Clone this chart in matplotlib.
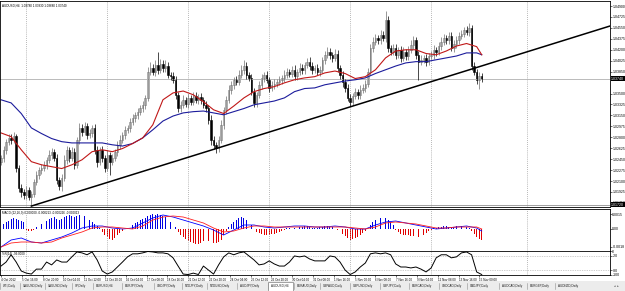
import numpy as np
import matplotlib.pyplot as plt
import matplotlib.transforms as mtransforms

plt.rcParams['font.family'] = ['Liberation Sans', 'DejaVu Sans']

# ---- price data (pips above 1.0000), H4 bars ----
first_open = 240
close_pips = [247, 260, 273, 279, 276, 282, 231, 199, 193, 188,
              196, 185, 190, 209, 220, 228, 231, 236, 244, 252,
              257, 247, 212, 202, 215, 244, 260, 247, 257, 236,
              276, 295, 289, 298, 284, 287, 295, 260, 241, 260,
              247, 231, 252, 241, 247, 257, 268, 276, 284, 292,
              295, 305, 311, 316, 321, 327, 332, 343, 385, 391,
              385, 396, 388, 398, 391, 394, 380, 378, 372, 348,
              327, 332, 340, 334, 343, 337, 346, 340, 345, 340,
              332, 327, 308, 276, 268, 263, 276, 300, 324, 340,
              356, 364, 372, 369, 380, 388, 394, 380, 375, 353,
              335, 348, 364, 375, 380, 372, 359, 364, 366, 369,
              372, 375, 380, 385, 382, 388, 378, 385, 391, 388,
              396, 401, 394, 388, 391, 385, 388, 404, 412, 417,
              412, 407, 414, 391, 380, 369, 359, 343, 337, 346,
              353, 348, 356, 359, 366, 385, 423, 433, 439, 436,
              444, 439, 468, 423, 417, 423, 412, 420, 407, 417,
              410, 420, 428, 436, 412, 401, 404, 407, 401, 410,
              412, 420, 417, 426, 433, 439, 436, 442, 423, 430,
              436, 442, 446, 452, 449, 455, 394, 385, 372, 378,
              374]
upper_wick = [5, 6, 5, 7, 6, 6, 4, 5, 6, 5, 6, 5, 4, 5, 6, 5, 7, 6, 5, 8,
              6, 5, 7, 5, 6, 8, 6, 5, 7, 6, 5, 8, 6, 7, 5, 6, 5, 7, 6, 5,
              6, 5, 7, 5, 6, 5, 6, 7, 5, 6, 5, 6, 7, 5, 6, 5, 6, 5, 8, 10,
              6, 7, 21, 8, 6, 9, 6, 5, 7, 6, 5, 6, 7, 5, 6, 5, 6, 7, 5, 6,
              5, 6, 5, 7, 6, 5, 6, 7, 5, 6, 7, 6, 5, 6, 7, 8, 10, 6, 5, 7,
              6, 5, 6, 7, 5, 6, 5, 6, 7, 5, 6, 5, 7, 6, 5, 6, 7, 5, 8, 6,
              5, 6, 7, 6, 5, 7, 6, 5, 6, 8, 6, 5, 7, 6, 5, 6, 5, 7, 6, 5,
              6, 5, 7, 6, 5, 6, 7, 8, 6, 5, 7, 6, 14, 6, 5, 7, 6, 5, 6, 7,
              5, 6, 7, 6, 5, 6, 7, 5, 6, 5, 6, 7, 5, 6, 8, 6, 5, 7, 6, 5,
              6, 7, 6, 5, 6, 8, 5, 6, 5, 6, 5]
lower_wick = [5, 6, 7, 5, 6, 5, 6, 7, 8, 6, 7, 6, 13, 6, 5, 7, 6, 5, 6, 5,
              6, 5, 7, 6, 8, 5, 6, 7, 5, 6, 5, 6, 7, 5, 6, 5, 6, 7, 8, 6,
              7, 6, 5, 21, 6, 5, 7, 6, 5, 6, 5, 6, 5, 7, 6, 5, 6, 7, 5, 6,
              5, 7, 6, 5, 6, 7, 5, 6, 5, 6, 7, 6, 5, 6, 7, 5, 6, 5, 7, 6,
              5, 6, 7, 8, 7, 8, 6, 5, 7, 6, 5, 6, 7, 5, 6, 5, 7, 6, 5, 6,
              7, 6, 5, 6, 7, 5, 6, 5, 7, 6, 5, 6, 7, 5, 6, 5, 7, 6, 5, 6,
              6, 5, 7, 6, 5, 6, 7, 5, 6, 5, 7, 6, 5, 6, 7, 8, 6, 5, 7, 6,
              5, 6, 7, 5, 6, 5, 6, 7, 5, 6, 6, 5, 7, 6, 5, 6, 7, 5, 6, 5,
              7, 6, 5, 6, 7, 29, 6, 5, 7, 6, 5, 6, 7, 5, 6, 5, 7, 6, 5, 6,
              7, 6, 5, 6, 5, 7, 6, 5, 6, 14, 6]

# moving averages, one value every 4 bars (last one = last bar)
ma_bars = list(range(0, 189, 4)) + [190]
red_ma = [287, 281, 260, 241, 236, 233, 230, 236, 244, 257, 260, 257,
          262, 270, 279, 300, 340, 351, 354, 348, 337, 324, 318, 330,
          343, 353, 358, 361, 367, 372, 375, 377, 383, 386, 382, 374,
          377, 388, 407, 418, 420, 420, 414, 412, 418, 426, 430, 425, 412]
blue_ma = [340, 335, 318, 295, 286, 278, 273, 271, 271, 271, 271, 268,
           266, 270, 279, 292, 306, 314, 319, 321, 322, 319, 316, 321,
           326, 332, 335, 338, 343, 353, 358, 359, 364, 367, 370, 372,
           375, 382, 388, 394, 399, 401, 401, 404, 407, 410, 415, 415, 412]

# trend line (bar, pips) and horizontal line (pips)
trend_bars = [12, 240.7]
trend_pips = [170, 458]
hline_pips = 172

# MACD (units of 0.0001)
macd_hist = [4, 5, 7, 8, 10, 11, 10, 9, 8, 7, -1, -2, -2, -1, 2, 3, 5, 7, 8, 10,
             11, 12, 10, 9, 10, 12, 13, 14, 13, 12, 13, 14, 14, 13, 11, 9, 7, 5, 3, 1,
             -3, -6, -8, -10, -11, -9, -6, -4, -2, -1, 1, 3, 4, 6, 7, 9, 10, 11, 13, 14,
             15, 14, 15, 14, 13, 12, 9, 7, 5, 2, -3, -6, -8, -10, -12, -13, -14, -15, -15, -14,
             -12, -11, -12, -13, -14, -14, -13, -11, -6, -2, 2, 5, 7, 9, 11, 12, 11, 9, 7, 4,
             1, -3, -4, -5, -6, -6, -6, -5, -5, -4, -3, -2, -1, 1, 1, 2, 1, 2, 2, 2,
             3, 3, 2, 1, 1, 1, 2, 2, 3, 3, 2, 2, 1, -1, -3, -5, -7, -9, -11, -10,
             -9, -8, -6, -4, -2, 1, 4, 7, 9, 10, 11, 11, 11, 9, 7, 4, -1, -3, -5, -6,
             -6, -6, -7, -7, -8, -8, -7, -6, -4, -2, -1, 1, 1, 2, 2, 3, 3, 2, 2, 2,
             3, 3, 3, 2, 2, 1, -2, -5, -8, -10, -11]
macd_blue = [-18, -11, -9, -13, -14, -11, -8, -4, 1, 3, 3, 1, 0, 1, 6, 11, 14, 12,
             9, 6, 3, -1, -6, -1, 4, 4, 2, 1, 2, 3, 3, 2, 2, 3, 2, 0, 0, 4, 7, 8,
             6, 4, 2, 0, 1, 2, 3, 1, -2]
macd_red = [-18, -14, -13, -13, -14, -13, -9, -6, -3, 1, 2, 2, 1, 0, 3, 9, 12, 13,
            12, 9, 6, 1, -3, -2, 1, 3, 3, 2, 2, 2, 2, 2, 2, 2, 2, 1, 0, 2, 6, 7,
            6, 5, 3, 1, 1, 2, 2, 2, 0]

# Williams %R, one value every 2 bars
wpr = [-63, -46, -15, -46, -84, -93, -97, -76, -76, -46,
       -58, -37, -46, -46, -24, -3, -7, -15, -3, -37,
       -84, -97, -88, -67, -46, -24, -11, -11, -7, -1,
       -3, -7, -7, -11, -28, -63, -97, -99, -93, -99,
       -63, -80, -97, -58, -24, -7, -15, -7, -3, -20,
       -37, -58, -54, -41, -54, -63, -63, -46, -20, -24,
       -20, -33, -41, -41, -41, -20, -24, -46, -80, -99,
       -88, -67, -50, -11, -7, -11, -7, -15, -54, -67,
       -67, -71, -67, -76, -88, -71, -28, -15, -15, -28,
       -24, -7, -3, -15, -88, -99]

price_ticks = [1.0490, 1.04725, 1.0455, 1.04375, 1.0420, 1.04025, 1.0385,
               1.0350, 1.03325, 1.0315, 1.02975, 1.0280, 1.02625, 1.0245,
               1.02275, 1.0210, 1.01925, 1.0175]
date_labels = ['4 Oct 2012', '5 Oct 16:00', '8 Oct 20:00', '10 Oct 04:00',
               '11 Oct 12:00', '12 Oct 20:00', '16 Oct 04:00', '17 Oct 08:00',
               '18 Oct 16:00', '21 Oct 12:00', '22 Oct 20:00', '24 Oct 04:00',
               '25 Oct 12:00', '26 Oct 20:00', '30 Oct 04:00', '31 Oct 08:00',
               '1 Nov 16:00', '5 Nov 00:00', '6 Nov 08:00', '7 Nov 16:00',
               '9 Nov 04:00', '12 Nov 08:00', '13 Nov 16:00', '15 Nov 00:00']
label_step = 8.22   # bars between time labels
grid_bars = [10, 42, 74, 106, 138, 170, 208]
tabs = ['WTI,Daily', 'XAUUSD,Daily', 'XAGUSD,Daily', 'SP,Daily', 'EURUSD,H4',
        'EURJPY,Daily', 'USDJPY,Daily', 'NZDJPY,Daily', 'NZDUSD,Daily',
        'AUDJPY,Daily', 'AUDUSD,H4', 'EURAUD,Daily', 'GBPAUD,Daily',
        'GBPUSD,Daily', 'GBPJPY,Daily', 'EURCAD,Daily', 'USDCAD,Daily',
        'CADJPY,Daily', 'AUDCAD,Daily', 'EURGBP,Daily', 'AUDNZD,Daily']
tab_x = [3, 23, 48, 75, 96, 125, 157, 185, 210, 240, 271, 297, 323, 353,
         383, 412, 442, 470, 502, 530, 558]
active_tab = 'AUDUSD,H4'

# ---- derived ----
close = 1 + np.array(close_pips) / 1e4
opn = np.r_[1 + first_open / 1e4, close[:-1]]
high = np.maximum(opn, close) + np.array(upper_wick) / 1e4
low = np.minimum(opn, close) - np.array(lower_wick) / 1e4
idx = np.arange(len(close))
up = close >= opn

W, H = 625, 291
fig = plt.figure(figsize=(W / 100, H / 100), dpi=100)


def rect(top, bottom, left=0, right=610):
    return [left / W, (H - bottom) / H, (right - left) / W, (bottom - top) / H]


XLIM = (-0.4, 240.7)
FS = 2.5
FSS = 2.2
GRID = dict(color='#a0a0a0', lw=0.6, ls=(0, (1, 1.5)))

# main price panel
ax = fig.add_axes(rect(1, 207))
ax.set_xlim(*XLIM)
ax.set_ylim(1.01685, 1.0498)
for g in grid_bars:
    ax.axvline(g, **GRID)
ax.axhline(close[-1], color='#b0b0b0', lw=0.6)
ax.axhline(1 + hline_pips / 1e4, color='#909090', lw=0.6)
ax.vlines(idx[up], low[up], high[up], color='#707070', lw=0.5)
ax.vlines(idx[~up], low[~up], high[~up], color='black', lw=0.5)
body = np.maximum(np.abs(close - opn), 0.00006)
ax.bar(idx[up], body[up], bottom=opn[up], width=0.6, color='white',
       edgecolor='#707070', linewidth=0.4)
ax.bar(idx[~up], body[~up], bottom=close[~up], width=0.6, color='black',
       edgecolor='black', linewidth=0.4)
ax.plot(ma_bars, 1 + np.array(blue_ma) / 1e4, color='#1c1c9c', lw=0.8)
ax.plot(ma_bars, 1 + np.array(red_ma) / 1e4, color='#c01818', lw=0.8)
ax.plot(trend_bars, 1 + np.array(trend_pips) / 1e4, color='black', lw=1.1)
ax.yaxis.tick_right()
ax.set_yticks(price_ticks)
ax.set_yticklabels(['%.5f' % p for p in price_ticks])
ax.set_xticks([])
ax.tick_params(axis='y', labelsize=FS, length=1.2, width=0.4, pad=0.5)
trans = mtransforms.blended_transform_factory(ax.transAxes, ax.transData)
for p in (close[-1], 1 + hline_pips / 1e4):
    ax.text(1.002, p, '%.5f' % p, transform=trans, fontsize=FS,
            color='white', va='center', ha='left',
            bbox=dict(boxstyle='square,pad=0.1', fc='black', ec='none'))
ax.text(0.004, 0.99, 'AUDUSD,H4  %.5f %.5f %.5f %.5f' % (opn[-1], high[-1], low[-1], close[-1]),
        transform=ax.transAxes, fontsize=FSS, va='top', ha='left')

# MACD panel
ax2 = fig.add_axes(rect(209, 251))
ax2.set_xlim(*XLIM)
ax2.set_ylim(-0.0022, 0.0020)
for g in grid_bars:
    ax2.axvline(g, **GRID)
hist = np.array(macd_hist) / 1e4
ax2.bar(idx, hist, width=0.35, color=np.where(hist > 0, '#0000e0', '#e00000'))
ax2.plot(ma_bars, np.array(macd_blue) / 1e4, color='#0000ff', lw=0.6)
ax2.plot(ma_bars, np.array(macd_red) / 1e4, color='#ff2020', lw=0.6)
ax2.yaxis.tick_right()
ax2.set_yticks([0.0015, 0, -0.0018])
ax2.set_yticklabels(['0.0015', '0.00', '-0.0018'])
ax2.set_xticks([])
ax2.tick_params(axis='y', labelsize=FS, length=1.2, width=0.4, pad=0.5)
ax2.text(0.004, 0.95, 'MACD (12,26,9) 0.000000 -0.000213 -0.000226 -0.000013',
         transform=ax2.transAxes, fontsize=FSS, va='top', ha='left')

# Williams %R panel
ax3 = fig.add_axes(rect(251, 275))
ax3.set_xlim(*XLIM)
ax3.set_ylim(-101, 1)
for g in grid_bars:
    ax3.axvline(g, **GRID)
ax3.axhline(-20, color='#a0a0a0', lw=0.5, ls=(0, (1, 1.5)))
ax3.axhline(-80, color='#a0a0a0', lw=0.5, ls=(0, (1, 1.5)))
ax3.plot(np.arange(len(wpr)) * 2, wpr, color='black', lw=0.7)
ax3.yaxis.tick_right()
ax3.set_yticks([0, -20, -80, -100])
ax3.set_yticklabels(['0', '-20', '-80', '-100'])
ax3.tick_params(axis='y', labelsize=FS, length=1.2, width=0.4, pad=0.5)
ax3.set_xticks(np.arange(len(date_labels)) * label_step)
ax3.set_xticklabels(date_labels, ha='left')
ax3.tick_params(axis='x', labelsize=FSS, length=1.5, width=0.4, pad=0.5)
ax3.text(0.004, 0.95, '%%R(14) %.4f' % wpr[-1], transform=ax3.transAxes,
         fontsize=FSS, va='top', ha='left')

for a in (ax, ax2, ax3):
    for s in a.spines.values():
        s.set_linewidth(0.6)

# tab bar
tb = fig.add_axes([0, 0, 1, 10 / H])
tb.set_xlim(0, W)
tb.set_ylim(0, 10)
tb.axis('off')
tb.add_patch(plt.Rectangle((0, 0), W, 10, color='#ececec'))
for t, x in zip(tabs, tab_x):
    if t == active_tab:
        tb.add_patch(plt.Rectangle((x - 3, 0), 25, 9.5, fc='white', ec='#808080', lw=0.5))
    tb.text(x, 5, t, fontsize=FSS, va='center', ha='left', color='#202020')
    tb.plot([x - 3] * 2, [2, 8], color='#909090', lw=0.4)
tb.text(614, 5, '\u25c2  \u25b8', fontsize=FSS, va='center', ha='left', color='#404040')

fig.savefig('out.png', dpi=100)
